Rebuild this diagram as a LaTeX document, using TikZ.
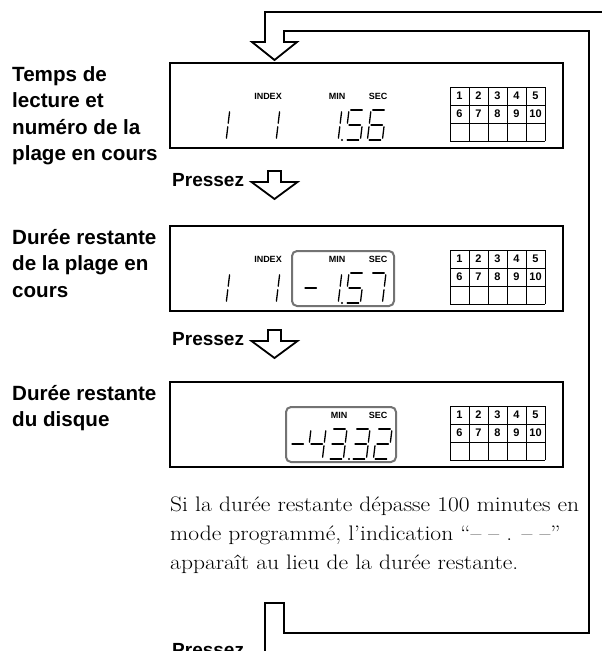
\documentclass[tikz,border=0pt]{standalone}
\usepackage{fontspec}
\setsansfont{Liberation Sans}
\usetikzlibrary{positioning}

% one LCD segment: 1=a 2=b 3=c 4=d 5=e 6=f 7=g
\newcommand{\lcdsegment}[1]{%
  \ifcase#1\or
    \draw[lcdline] (1.8,0) -- (13.2,0);\or
    \draw[lcdline] (15,1.8) -- (15,13.2);\or
    \draw[lcdline] (15,16.8) -- (15,28.2);\or
    \draw[lcdline] (1.8,30) -- (13.2,30);\or
    \draw[lcdline] (0,16.8) -- (0,28.2);\or
    \draw[lcdline] (0,1.8) -- (0,13.2);\or
    \draw[lcdline] (1.8,15) -- (13.2,15);\fi}
\newcommand{\lcddigit}[3]{%
  \begin{scope}[shift={(#1,#2)}, xslant=0.12]
    \foreach \s in {#3} {\lcdsegment{\s}}
  \end{scope}}
% track number grid of one display
\newcommand{\trackgrid}[1]{%
  \foreach \i in {0,...,5} \draw[gridline] (450+19*\i,#1+24) -- (450+19*\i,#1+78);
  \foreach \j in {0,...,3} \draw[gridline] (450,#1+24+18*\j) -- (545,#1+24+18*\j);
  \foreach \n in {1,...,5} \node[gridnum] at (440.5+19*\n,#1+33) {\n};
  \foreach \n in {6,...,10} \node[gridnum] at (440.5+19*\n-95,#1+51) {\n};}
% hollow arrow pointing down
\newcommand{\pressarrow}[2]{%
  \draw[pipe] (#1-6.5,#2) -- (#1+6.5,#2) -- (#1+6.5,#2+11) -- (#1+23,#2+11)
    -- (#1,#2+28) -- (#1-23,#2+11) -- (#1-6.5,#2+11) -- cycle;}

\begin{document}
\begin{tikzpicture}[x=1pt, y=-1pt,
    pipe/.style={line width=1.8pt, line join=miter},
    frame/.style={line width=2.2pt},
    hilite/.style={draw=black!55, line width=2pt, rounded corners=5pt},
    lcdline/.style={line width=1.3pt, line cap=round},
    gridline/.style={line width=0.9pt},
    gridnum/.style={font=\sffamily\bfseries\fontsize{11}{11}\selectfont, inner sep=0pt},
    lcdlabel/.style={font=\sffamily\bfseries\fontsize{9}{9}\selectfont, inner sep=0pt},
    modelabel/.style={font=\sffamily\bfseries\fontsize{20.6}{26.5}\selectfont, align=left, anchor=north west, inner sep=0pt},
    presslabel/.style={font=\sffamily\bfseries\fontsize{19}{19}\selectfont, anchor=west, inner sep=0pt}]
  \useasboundingbox (0,0) rectangle (602,651);
  \clip (0,0) rectangle (602,651);

  % return loop
  \draw[pipe] (265,660) -- (265,603) -- (284,603) -- (284,633) -- (589,633) -- (589,31)
    -- (284,31) -- (284,42) -- (297,42) -- (274.5,60) -- (252,42) -- (265,42) -- (265,12) -- (610,12);

  % display 1
  \node[modelabel] (mode1) at (12,66) {Temps de\\lecture et\\numéro de la\\plage en cours};
  \draw[frame] (170,63) rectangle (563,148);
  \node[lcdlabel] (index1) at (268,96) {INDEX};
  \node[lcdlabel] (min1) at (337,96) {MIN};
  \node[lcdlabel] (sec1) at (378,96) {SEC};
  \lcddigit{214.8}{110}{2,3}
  \lcddigit{264.8}{110}{2,3}
  \lcddigit{326.8}{110}{2,3}
  \fill (342,140) circle (1.1);
  \lcddigit{349}{110}{1,6,7,3,4}
  \lcddigit{371}{110}{1,6,7,5,4,3}
  \trackgrid{63}

  \node[presslabel] (press1) at (172,180) {Pressez};
  \pressarrow{274.5}{171}

  % display 2
  \node[modelabel] (mode2) at (12,229) {Durée restante\\de la plage en\\cours};
  \draw[frame] (170,226) rectangle (563,311);
  \draw[hilite] (292,251) rectangle (394,306);
  \node[lcdlabel] (index2) at (268,259) {INDEX};
  \node[lcdlabel] (min2) at (337,259) {MIN};
  \node[lcdlabel] (sec2) at (378,259) {SEC};
  \lcddigit{214.8}{273}{2,3}
  \lcddigit{264.8}{273}{2,3}
  \lcddigit{305}{273}{7}
  \lcddigit{326.8}{273}{2,3}
  \fill (342,303) circle (1.1);
  \lcddigit{349}{273}{1,6,7,3,4}
  \lcddigit{371}{273}{1,2,3}
  \trackgrid{226}

  \node[presslabel] (press2) at (172,339) {Pressez};
  \pressarrow{274.5}{330}

  % display 3
  \node[modelabel] (mode3) at (12,385) {Durée restante\\du disque};
  \draw[frame] (170,382) rectangle (563,467);
  \draw[hilite] (286,407) rectangle (396,462);
  \node[lcdlabel] (min3) at (339,415) {MIN};
  \node[lcdlabel] (sec3) at (378,415) {SEC};
  \lcddigit{292}{429}{7}
  \lcddigit{311}{429}{6,7,2,3}
  \lcddigit{332}{429}{1,2,7,3,4}
  \fill (349,459) circle (1.1);
  \lcddigit{355}{429}{1,2,7,3,4}
  \lcddigit{377}{429}{1,2,7,5,4}
  \trackgrid{382}

  % note, widened to the width of the original serif
  \begin{scope}[shift={(170,497)}, xscale=1.12]
    \node[transform shape, anchor=north west, align=left, inner sep=0pt,
          font=\fontsize{21}{29}\selectfont] (note) at (0,0)
      {Si la durée restante dépasse 100 minutes en\\mode programmé, l'indication ``-- -- . -- --''\\apparaît au lieu de la durée restante.};
  \end{scope}

  \node[presslabel] (press3) at (172,650) {Pressez};
\end{tikzpicture}
\end{document}
